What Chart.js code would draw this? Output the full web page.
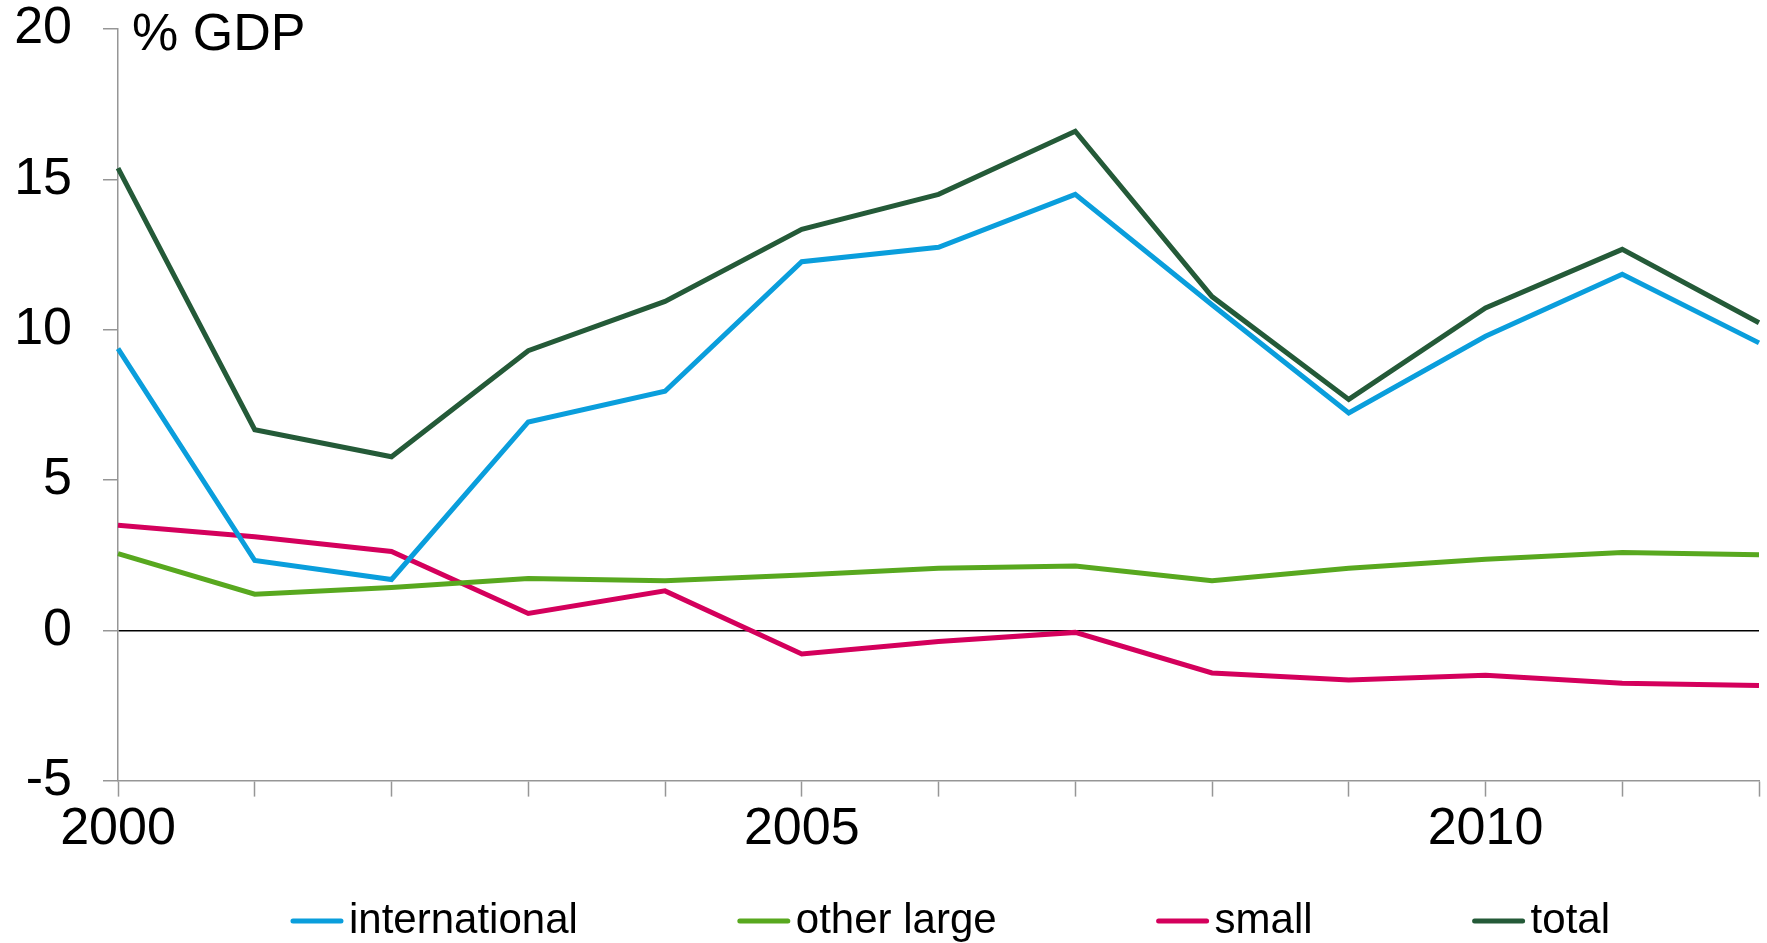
<!DOCTYPE html>
<html>
<head>
    <title>% GDP by bank group</title>
    <script src="https://cdn.jsdelivr.net/npm/chart.js@4.4.0/dist/chart.umd.min.js"></script>
    <style>
        html, body { margin: 0; padding: 0; background: #fff; }
        #wrap { width: 1767px; height: 943px; }
    </style>
</head>
<body>
    <div id="wrap"><canvas id="gdp-chart"></canvas></div>

    <script>
        var years = ['2000', '2001', '2002', '2003', '2004', '2005', '2006',
                     '2007', '2008', '2009', '2010', '2011', '2012'];
        var shownYears = ['2000', '2005', '2010'];

        var international = [9.37, 2.32, 1.69, 6.93, 7.95, 12.26, 12.74, 14.5, 10.83, 7.23, 9.78, 11.84, 9.56];
        var otherLarge    = [2.55, 1.2, 1.42, 1.72, 1.65, 1.84, 2.06, 2.14, 1.65, 2.06, 2.36, 2.59, 2.51];
        var small         = [3.49, 3.11, 2.62, 0.56, 1.31, -0.79, -0.37, -0.07, -1.42, -1.65, -1.5, -1.76, -1.84];
        var total         = [15.37, 6.67, 5.77, 9.3, 10.94, 13.34, 14.5, 16.6, 11.1, 7.68, 10.72, 12.67, 10.23];

        var seriesNames  = ['international', 'other large', 'small', 'total'];
        var seriesColors = ['#0a9edc', '#58a81f', '#d4005c', '#245a38'];

        var FONT = '"Liberation Sans", Arial, sans-serif';

        // unit label in the top left corner of the plot
        var unitLabel = {
            id: 'unitLabel',
            afterDraw: function(chart) {
                var c = chart.ctx;
                c.save();
                c.font = '52px ' + FONT;
                c.fillStyle = '#000';
                c.textBaseline = 'middle';
                c.textAlign = 'left';
                c.fillText('% GDP', chart.chartArea.left + 14, chart.chartArea.top + 7);
                c.restore();
            }
        };

        // legend row with short line samples, like the original
        var lineLegend = {
            id: 'lineLegend',
            afterDraw: function(chart) {
                var c = chart.ctx;
                var sample = 52, gap = 6, spacing = 160, y = 921;
                c.save();
                c.font = '42px ' + FONT;
                c.textBaseline = 'middle';
                var widths = chart.data.datasets.map(function(ds) {
                    return sample + gap + c.measureText(ds.label).width;
                });
                var full = widths.reduce(function(a, b) { return a + b; }, 0) + spacing * (widths.length - 1);
                var x = (chart.chartArea.left + chart.chartArea.right) / 2 + 12 - full / 2;
                chart.data.datasets.forEach(function(ds, i) {
                    c.strokeStyle = ds.borderColor;
                    c.lineWidth = 5;
                    c.lineCap = 'round';
                    c.beginPath();
                    c.moveTo(x + 2, y);
                    c.lineTo(x + sample - 2, y);
                    c.stroke();
                    c.fillStyle = '#000';
                    c.fillText(ds.label, x + sample + gap, y);
                    x += widths[i] + spacing;
                });
                c.restore();
            }
        };

        var allSeries = [international, otherLarge, small, total];

        var ctx = document.getElementById('gdp-chart').getContext('2d');
        var gdpChart = new Chart(ctx, {
            type: 'line',
            data: {
                labels: years,
                datasets: allSeries.map(function(values, i) {
                    return {
                        label: seriesNames[i],
                        data: values,
                        borderColor: seriesColors[i],
                        backgroundColor: seriesColors[i],
                        borderWidth: 5,
                        pointRadius: 0,
                        tension: 0,
                        fill: false
                    };
                })
            },
            options: {
                responsive: true,
                maintainAspectRatio: false,
                animation: false,
                layout: {
                    padding: { top: 29, right: 8, left: 14, bottom: 80 }
                },
                scales: {
                    x: {
                        offset: false,
                        border: { color: '#969696', width: 1.5 },
                        grid: {
                            drawOnChartArea: false,
                            tickLength: 16,
                            tickColor: '#969696',
                            tickWidth: 1.5
                        },
                        ticks: {
                            autoSkip: false,
                            maxRotation: 0,
                            padding: 2,
                            color: '#000',
                            font: { family: FONT, size: 52 },
                            callback: function(value) {
                                var lbl = this.getLabelForValue(value);
                                return shownYears.indexOf(lbl) >= 0 ? lbl : '';
                            }
                        }
                    },
                    y: {
                        min: -5,
                        max: 20,
                        afterFit: function(scale) {
                            scale.width = 104;
                            scale.paddingTop = 0;
                            scale.paddingBottom = 0;
                        },
                        border: { color: '#969696', width: 1.5 },
                        grid: {
                            color: function(context) {
                                return context.tick && context.tick.value === 0 ? '#000' : 'rgba(0,0,0,0)';
                            },
                            lineWidth: 1.5,
                            tickLength: 15,
                            tickColor: '#969696',
                            tickWidth: 1.5
                        },
                        ticks: {
                            stepSize: 5,
                            padding: 31,
                            color: '#000',
                            font: { family: FONT, size: 52 }
                        }
                    }
                },
                plugins: {
                    legend: { display: false },
                    tooltip: { enabled: false }
                }
            },
            plugins: [unitLabel, lineLegend]
        });
    </script>
</body>
</html>
